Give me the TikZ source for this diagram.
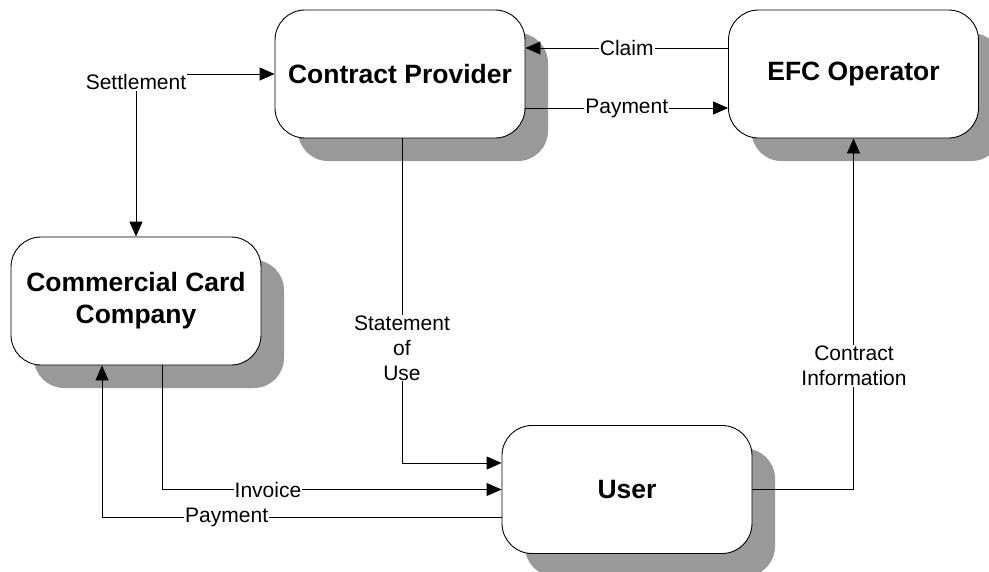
\documentclass[tikz,border=0pt]{standalone}
\usepackage{fontspec}
\setmainfont{Liberation Sans}
\usetikzlibrary{shadows,arrows.meta}
\definecolor{shadowgray}{RGB}{153,153,153}
\tikzset{
  party/.style={draw=black, line width=0.9pt, fill=white, rounded corners=30pt,
    minimum width=250pt, minimum height=128pt, align=center,
    font=\fontsize{26.5}{32}\selectfont\bfseries,
    general shadow={fill=shadowgray, draw=none, shadow xshift=23pt, shadow yshift=-23pt}},
  flow/.style={draw=black, line width=0.9pt, -{Triangle[length=15pt,width=13pt]}},
  both/.style={draw=black, line width=0.9pt, {Triangle[length=15pt,width=13pt]}-{Triangle[length=15pt,width=13pt]}},
  lbl/.style={fill=white, inner sep=1pt, align=center, font=\fontsize{21}{25}\selectfont}
}
\begin{document}
\begin{tikzpicture}[x=1pt, y=-1pt]
  \useasboundingbox (0,0) rectangle (989,571);

  % parties
  \node[party] (cp)   at (400,74)    {Contract Provider};
  \node[party] (efc)  at (853.5,74)  {EFC Operator};
  \node[party] (ccc)  at (136,301)   {Commercial Card\\Company};
  \node[party] (user) at (627,489.5) {User};

  % settlement between provider and card company
  \draw[both] (ccc.north) |- (cp.west);
  \node[lbl] (settle) at (136,82) {Settlement};

  % provider <-> operator
  \draw[flow] ([yshift=26pt]efc.west) -- node[lbl] (claim) {Claim} ([yshift=26pt]cp.east);
  \draw[flow] ([yshift=-34pt]cp.east) -- node[lbl] (pay1) {Payment} ([yshift=-34pt]efc.west);

  % provider -> user
  \draw[flow] ([xshift=2pt]cp.south) |- ([yshift=26.5pt]user.west);
  \node[lbl] (stmt) at (402,348) {Statement\\of\\Use};

  % card company <-> user
  \draw[flow] ([xshift=26pt]ccc.south) |- node[lbl, pos=0.656] (inv) {Invoice} (user.west);
  \draw[flow] ([yshift=-27.5pt]user.west) -| node[lbl, pos=0.344] (pay2) {Payment} ([xshift=-34pt]ccc.south);

  % user -> operator
  \draw[flow] (user.east) -| (efc.south);
  \node[lbl] (info) at (854,366) {Contract\\Information};
\end{tikzpicture}
\end{document}
